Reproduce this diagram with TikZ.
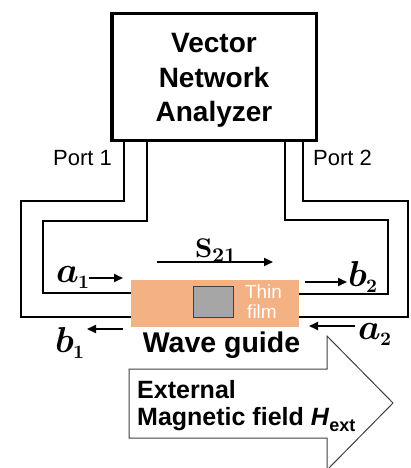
\documentclass[tikz,border=0pt]{standalone}
\usepackage{fontspec}
\setmainfont{Liberation Sans}
\newfontfamily\lmm{Latin Modern Math}
\usetikzlibrary{arrows.meta,calc}
\definecolor{wgorange}{RGB}{244,177,131}
\definecolor{filmgray}{RGB}{166,166,166}
\definecolor{edgegray}{RGB}{64,64,64}
\newcommand{\siglab}[2]{{\lmm\fontsize{36}{36}\selectfont #1}\raisebox{-6pt}{\lmm\fontsize{19}{19}\selectfont #2}}
\begin{document}
\begin{tikzpicture}[x=1pt,y=-1pt,
  cable/.style={line width=2.8pt, line join=miter},
  sig/.style={line width=2pt, -{Triangle[length=9pt,width=8pt]}},
  lbl/.style={inner sep=0pt, anchor=base west},
  ctr/.style={inner sep=0pt, anchor=base},
]
\useasboundingbox (0,0) rectangle (411,468);
\fill[white] (0,0) rectangle (411,468);

% external field arrow
\draw[edgegray, line width=1pt, fill=white, line join=miter]
  (129,369) -- (327,369) -- (327,336) -- (393,403) -- (327,470) -- (327,438) -- (129,438) -- cycle;

% VNA
\node[draw, line width=3.5pt, minimum width=204.5pt, minimum height=126.5pt, inner sep=0pt] (vna) at (214,77) {};
\node[inner sep=0pt, align=center, font=\bfseries\fontsize{28}{34.5}\selectfont] (vnatext) at (214,80.5) {Vector\\Network\\Analyzer};

% wave guide and film
\node[fill=wgorange, minimum width=168pt, minimum height=47pt, inner sep=0pt] (wg) at (215,303.5) {};
\node[fill=filmgray, draw=edgegray, line width=1pt, minimum width=40pt, minimum height=31pt, inner sep=0pt] (film) at (213.5,302) {};
\node[ctr, text=white, font=\fontsize{19}{19}\selectfont] (thin) at (263.5,298) {Thin};
\node[ctr, text=white, font=\fontsize{19}{19}\selectfont] (filmtxt) at (262,318) {film};

% cables
\coordinate (lo) at (124,201);
\coordinate (li) at (147,221);
\coordinate (ri) at (285,220);
\coordinate (ro) at (303,201);
\draw[cable] (vna.south -| lo) -- (lo) -- (21,201) -- (21,317) -- ($(wg.west)+(0,13.5)$);
\draw[cable] (vna.south -| li) -- (li) -- (43,221) -- (43,293) -- ($(wg.west)+(0,-10.5)$);
\draw[cable] (vna.south -| ri) -- (ri) -- (388,220) -- (388,294) -- ($(wg.east)+(0,-9.5)$);
\draw[cable] (vna.south -| ro) -- (ro) -- (408,201) -- (408,317) -- ($(wg.east)+(0,13.5)$);

% port labels
\node[lbl, font=\fontsize{22}{22}\selectfont] (port1) at (53,165) {Port 1};
\node[lbl, font=\fontsize{22}{22}\selectfont] (port2) at (313,165) {Port 2};

% signal labels
\node[lbl] (a1) at (56,282) {\siglab{𝒂}{𝟏}};
\node[lbl] (b1) at (55,352) {\siglab{𝒃}{𝟏}};
\node[lbl] (b2) at (348,286) {\siglab{𝒃}{𝟐}};
\node[lbl] (a2) at (358,339) {\siglab{𝒂}{𝟐}};
\node[lbl] (s21) at (195,257) {{\lmm\fontsize{27}{27}\selectfont 𝐒}\raisebox{-5pt}{\lmm\fontsize{21}{21}\selectfont 𝟐𝟏}};

% signal arrows
\coordinate (a1s) at (89,278);  \coordinate (a1e) at (123,278);
\coordinate (s21s) at (157,262); \coordinate (s21e) at (273,262);
\coordinate (b2s) at (305,282); \coordinate (b2e) at (347,282);
\coordinate (b1s) at (123,329); \coordinate (b1e) at (87,329);
\coordinate (a2s) at (355,326); \coordinate (a2e) at (309,326);
\draw[sig] (a1s) -- (a1e);
\draw[sig] (s21s) -- (s21e);
\draw[sig] (b2s) -- (b2e);
\draw[sig] (b1s) -- (b1e);
\draw[sig] (a2s) -- (a2e);

% texts
\node[ctr, font=\bfseries\fontsize{28.5}{28.5}\selectfont] (wgtext) at (221.5,352) {Wave guide};
\node[lbl, font=\bfseries\fontsize{25}{25}\selectfont] (ext1) at (137,398) {External};
\node[lbl, font=\bfseries\fontsize{25}{25}\selectfont] (ext2) at (137,425) {Magnetic field \textit{H}\raisebox{-6pt}{\fontsize{18}{18}\selectfont ext}};
\end{tikzpicture}
\end{document}
